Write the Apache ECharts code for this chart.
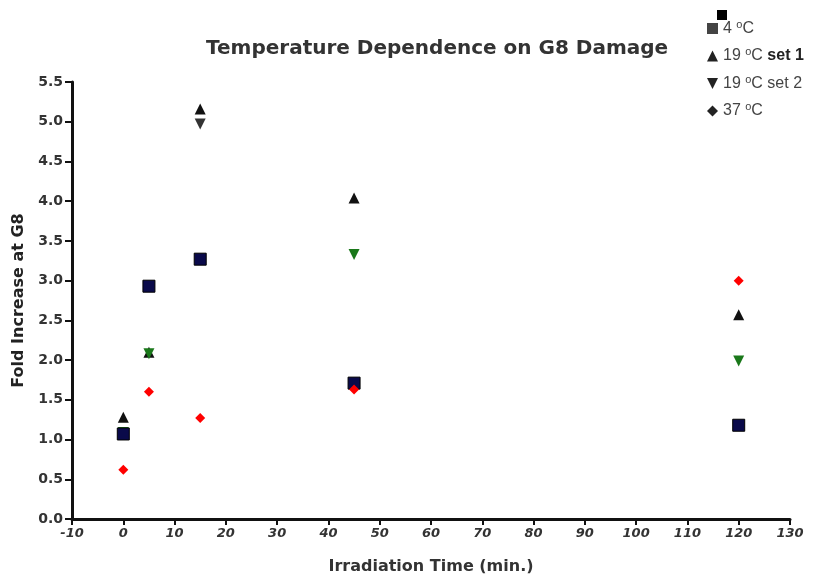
<!DOCTYPE html>
<html><head><meta charset="utf-8">
<script src="https://cdn.jsdelivr.net/npm/echarts@6/dist/echarts.min.js"></script>
<style>html,body{margin:0;padding:0;background:#fff}#c{width:835px;height:581px}</style>
</head><body><div id="c"></div>
<script>
const times = [0, 5, 15, 45, 120];
const temp4 = [1.07, 2.93, 3.27, 1.71, 1.18];
const temp19set1 = [1.28, 2.10, 5.16, 4.04, 2.57];
const temp19set2 = [1.09, 2.08, 4.97, 3.33, 1.99];
const temp37 = [0.62, 1.60, 1.27, 1.63, 3.00];
const seriesNames = ['4 {s|o}C', '19 {s|o}C {b|set 1}', '19 {s|o}C set 2', '37 {s|o}C'];
const xTicks = [-10, 0, 10, 20, 30, 40, 50, 60, 70, 80, 90, 100, 110, 120, 130];
const yTicks = [0, 0.5, 1, 1.5, 2, 2.5, 3, 3.5, 4, 4.5, 5, 5.5];

const chart = echarts.init(document.getElementById('c'));
const pairs = arr => times.map((t, i) => [t, arr[i]]);
const font = 'Arial, "Liberation Sans", sans-serif';
const wide = '"DejaVu Sans", Arial, sans-serif';
const symbols = ['rect', 'triangle', 'triangle', 'diamond'];
const rotates = [0, 0, 180, 0];
const sizes = [12, 11, 11, 10];
const colors = ['#0a0a4a', '#111111', '#1a781a', '#ff0000'];
const datasets = [temp4, temp19set1, temp19set2, temp37];

chart.setOption({
  animation: false,
  backgroundColor: '#fff',
  title: {
    text: 'Temperature Dependence on G8 Damage',
    left: 201, top: 34,
    textStyle: { fontFamily: wide, fontSize: 20, fontWeight: 'bold', color: '#333' }
  },
  legend: {
    orient: 'vertical', left: 702, top: 14,
    itemWidth: 11, itemHeight: 11, itemGap: 10,
    textStyle: {
      fontFamily: font, fontSize: 16, color: '#444',
      rich: { s: { fontSize: 11, verticalAlign: 'top', padding: [0,0,8,0], color: '#444', fontFamily: font },
              b: { fontSize: 16, fontWeight: 'bold', color: '#222', fontFamily: font } }
    },
    data: seriesNames.map((n, i) => ({
      name: n,
      icon: ['rect', 'triangle', 'path://M0,0 L10,0 L5,10 Z', 'diamond'][i],
      itemStyle: { color: i === 0 ? '#444' : '#222', borderWidth: 0, opacity: 1 }
    }))
  },
  graphic: [{ type: 'rect', left: 717, top: 10, shape: { width: 10, height: 10 }, style: { fill: '#000' } }],
  grid: { left: 72, right: 45, top: 82, bottom: 62 },
  xAxis: {
    type: 'value', min: -10, max: 130, interval: 10,
    name: 'Irradiation Time (min.)', nameLocation: 'middle', nameGap: 40,
    nameTextStyle: { fontFamily: wide, fontSize: 16, fontWeight: 'bold', color: '#333' },
    axisLine: { onZero: false, lineStyle: { color: '#111', width: 3 } },
    axisTick: { show: true, length: 6, lineStyle: { color: '#111', width: 2 } },
    axisLabel: { fontFamily: wide, fontSize: 13, fontWeight: 'bold', fontStyle: 'italic', color: '#333', margin: 8,
                 formatter: v => xTicks.includes(v) ? String(v) : '' },
    splitLine: { show: false }
  },
  yAxis: {
    type: 'value', min: 0, max: 5.5, interval: 0.5,
    name: 'Fold Increase at G8', nameLocation: 'middle', nameGap: 42,
    nameTextStyle: { fontFamily: wide, fontSize: 16, fontWeight: 'bold', color: '#222' },
    axisLine: { show: true, onZero: false, lineStyle: { color: '#111', width: 3 } },
    axisTick: { show: true, length: 7, lineStyle: { color: '#111', width: 2 } },
    axisLabel: { fontFamily: wide, fontSize: 14, fontWeight: 'bold', color: '#333', margin: 9,
                 formatter: v => yTicks.includes(v) ? v.toFixed(1) : '' },
    splitLine: { show: false }
  },
  series: datasets.map((d, i) => ({
    name: seriesNames[i],
    type: 'scatter',
    symbol: symbols[i],
    symbolRotate: rotates[i],
    symbolSize: sizes[i],
    itemStyle: { opacity: 1, color: colors[i], borderColor: i === 0 ? '#000' : colors[i], borderWidth: i === 0 ? 1 : 0 },
    data: pairs(d).map((p, j) => (i === 2 && p[0] === 15)
      ? { value: p, itemStyle: { color: '#333', borderColor: '#333' } } : p),
    z: [5, 3, 4, 6][i]
  }))
});
</script></body></html>
